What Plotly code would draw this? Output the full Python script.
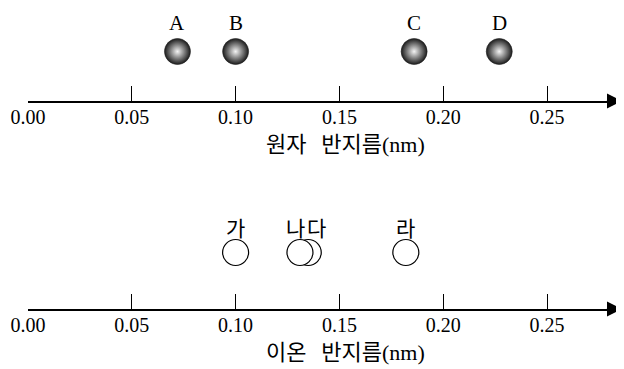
import plotly.graph_objects as go
from plotly.subplots import make_subplots

# data
atom_labels = ["A", "B", "C", "D"]
atom_radius = [0.072, 0.100, 0.186, 0.227]

ion_labels = ["가", "나", "다", "라"]
ion_radius = [0.100, 0.131, 0.135, 0.182]
ion_label_shift = [0, -4, 8, 0]

tick_vals = [0.00, 0.05, 0.10, 0.15, 0.20, 0.25]
tick_text = ["0.00", "0.05", "0.10", "0.15", "0.20", "0.25"]

W, H = 624, 369
OFF = 8  # page body margin of the html output
x_left_px, x_right_px = 28 - OFF, 622 - OFF
px_per_unit = 2076
x_max = (x_right_px - x_left_px) / px_per_unit
top_axis_px, bot_axis_px = 101 - OFF, 309 - OFF

serif = "Liberation Serif"
kr = "Noto Sans CJK KR"

fig = make_subplots(rows=2, cols=1)

# top: atoms (shaded spheres)
fig.add_trace(go.Scatter(
    x=atom_radius, y=[49.5] * len(atom_radius),
    mode="markers",
    marker=dict(size=26, color="#1a1a1a",
                gradient=dict(type="radial", color="#f4f4f4"),
                line=dict(width=0.6, color="#222")),
    hoverinfo="skip", showlegend=False), row=1, col=1)

# bottom: ions (open circles), drawn reversed so 나 sits on top of 다
fig.add_trace(go.Scatter(
    x=ion_radius[::-1], y=[56.5] * len(ion_radius),
    mode="markers",
    marker=dict(size=26, color="white", line=dict(width=1.2, color="black")),
    hoverinfo="skip", showlegend=False), row=2, col=1)

annotations = []
for lab, r in zip(atom_labels, atom_radius):
    annotations.append(dict(x=r, y=78, xref="x", yref="y", text=lab,
                            showarrow=False, font=dict(family=serif, size=21, color="black")))
for lab, r, dx in zip(ion_labels, ion_radius, ion_label_shift):
    annotations.append(dict(x=r, y=82, xref="x2", yref="y2", text=lab, xshift=dx,
                            showarrow=False, font=dict(family=kr, size=21, color="black")))

# axis titles
nm = '<span style="font-family:Liberation Serif;font-size:22px">(nm)</span>'
gap = "&nbsp;&nbsp;&nbsp;"
title_x = (345 - OFF - x_left_px) / px_per_unit
annotations.append(dict(x=title_x, y=1 - (142 - OFF) / H, xref="x", yref="paper",
                        xanchor="center", yanchor="middle",
                        text="원자" + gap + "반지름" + nm, showarrow=False,
                        font=dict(family=kr, size=22, color="black")))
annotations.append(dict(x=title_x, y=1 - (349.5 - OFF) / H, xref="x2", yref="paper",
                        xanchor="center", yanchor="middle",
                        text="이온" + gap + "반지름" + nm, showarrow=False,
                        font=dict(family=kr, size=22, color="black")))

# arrow heads at the right end of both axes
for xr, yr in [("x", "y"), ("x2", "y2")]:
    annotations.append(dict(x=x_max, y=0, xref=xr, yref=yr, ax=x_max - 0.008, ay=0,
                            axref=xr, ayref=yr, text="", showarrow=True,
                            arrowhead=2, arrowsize=2, arrowwidth=1.5, arrowcolor="black",
                            standoff=0, startstandoff=0))

axis_style = dict(range=[0, x_max], domain=[x_left_px / W, x_right_px / W],
                  showline=True, linecolor="black", linewidth=1.5,
                  ticks="inside", ticklen=15, tickwidth=1.3, tickcolor="black",
                  tickvals=tick_vals, ticktext=tick_text, ticklabelstandoff=-3,
                  tickfont=dict(family=serif, size=20, color="black"),
                  showgrid=False, zeroline=False, fixedrange=True, automargin=False)

fig.update_xaxes(**axis_style)
fig.update_yaxes(visible=False, showgrid=False, zeroline=False, fixedrange=True, automargin=False)
fig.update_yaxes(domain=[1 - top_axis_px / H, 1], range=[0, top_axis_px], row=1, col=1)
fig.update_yaxes(domain=[1 - bot_axis_px / H, 1 - bot_axis_px / H + 143 / H], range=[0, 143], row=2, col=1)

fig.update_layout(
    width=W, height=H,
    margin=dict(l=0, r=0, t=0, b=0),
    plot_bgcolor="white", paper_bgcolor="white",
    annotations=annotations,
)

fig.write_html("out.html")
